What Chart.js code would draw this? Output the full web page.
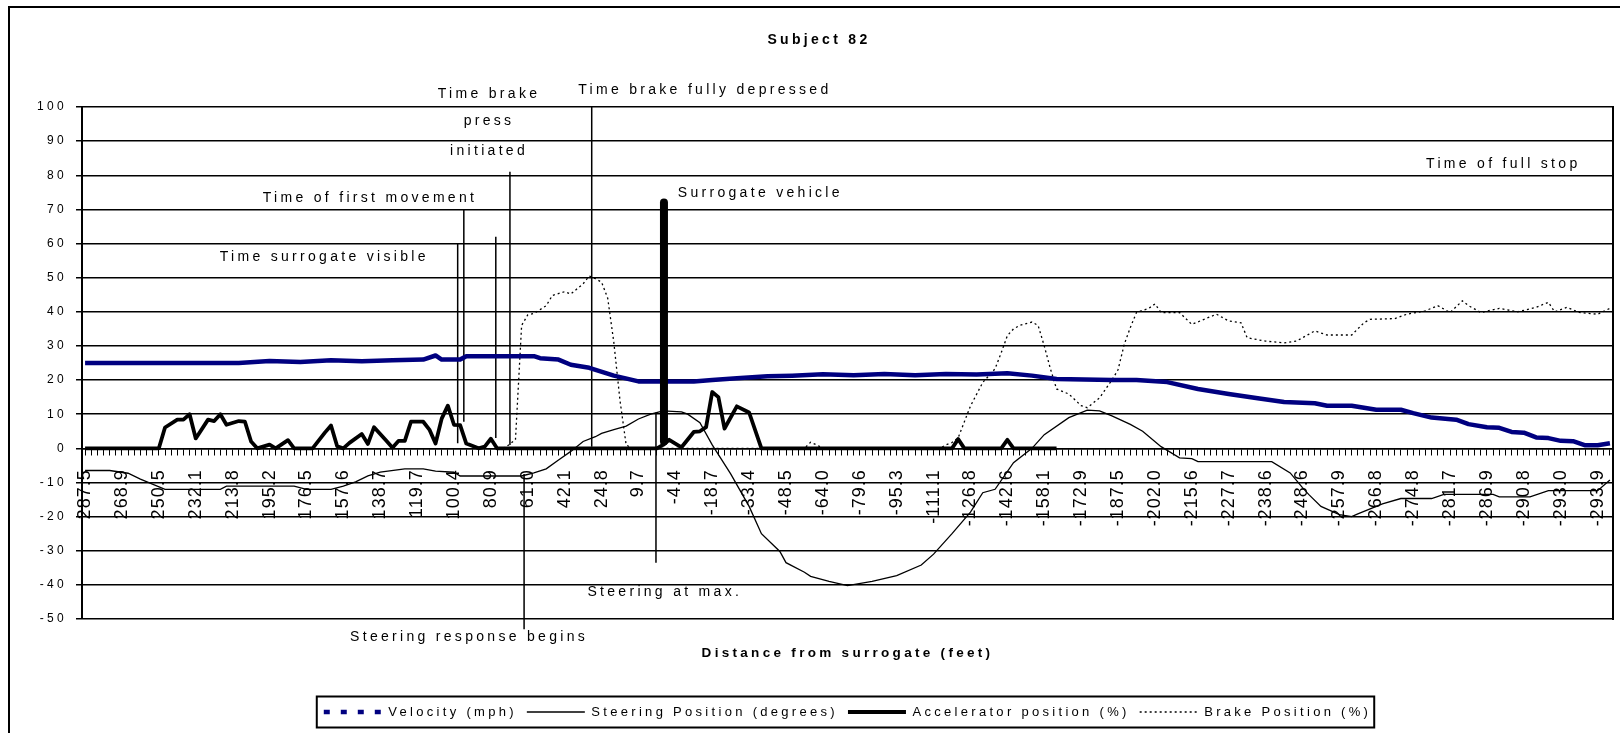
<!DOCTYPE html>
<html>
<head>
<meta charset="utf-8">
<title>Subject 82</title>
<script src="https://cdn.jsdelivr.net/npm/chart.js@4/dist/chart.umd.min.js"></script>
<style>
  html, body { margin: 0; padding: 0; background: #fff; }
  #wrap { position: relative; width: 1620px; height: 733px; overflow: hidden; }
  #frame { position: absolute; left: 8px; top: 6px; width: 1700px; height: 800px;
           border-left: 2px solid #000; border-top: 2px solid #000; pointer-events: none; }
</style>
</head>
<body>
<div id="wrap">
  <canvas id="myChart" width="1620" height="733"></canvas>
  <div id="frame"></div>
</div>
<script>
// distance from surrogate (feet), shown on every 6th sample
const distLabels = [
  '287.5', '268.9', '250.5', '232.1', '213.8', '195.2', '176.5', '157.6', '138.7', '119.7',
  '100.4', '80.9', '61.0', '42.1', '24.8', '9.7', '-4.4', '-18.7', '-33.4', '-48.5',
  '-64.0', '-79.6', '-95.3', '-111.1', '-126.8', '-142.6', '-158.1', '-172.9', '-187.5', '-202.0',
  '-215.6', '-227.7', '-238.6', '-248.6', '-257.9', '-266.8', '-274.8', '-281.7', '-286.9', '-290.8',
  '-293.0', '-293.9',
];
const sampleCount = 249;
const sampleIdx = Array.from({ length: sampleCount }, (_, k) => k);

// [sample index, value]
const velocity = [
  [0, 25], [25, 25], [30, 25.6], [35, 25.3], [40, 25.8], [45, 25.5], [50, 25.8], [55, 26], [57, 27.2], [58, 26],
  [61, 26], [62, 27], [73, 27], [74, 26.4], [77, 26], [79, 24.5], [82, 23.6], [86, 21.3], [90, 19.6], [99, 19.6],
  [102, 20], [106, 20.5], [111, 21.1], [115, 21.3], [120, 21.7], [125, 21.4], [130, 21.8], [135, 21.4], [140, 21.8], [145, 21.6],
  [150, 22], [154, 21.3], [158, 20.3], [167, 20], [171, 20], [176, 19.4], [181, 17.4], [186, 15.9], [191, 14.6], [195, 13.6],
  [200, 13.2], [202, 12.5], [206, 12.5], [210, 11.3], [214, 11.3], [216, 10.3], [219, 9], [223, 8.4], [225, 7.1], [228, 6.2],
  [230, 6], [232, 4.8], [234, 4.6], [236, 3.2], [238, 3], [240, 2.2], [242, 2.1], [244, 0.9], [246, 0.9], [248, 1.5],
];
const steering = [
  [0, -6.5], [4, -6.5], [7, -7.3], [9, -9], [13, -12], [22, -12], [23, -11.1], [34, -11.1], [36, -12], [40, -12],
  [42, -11.1], [44, -9.8], [46, -8.1], [48, -7], [52, -6], [55, -6], [57, -6.7], [60, -7], [61, -8.1], [71, -8.1],
  [73, -7.2], [75, -6], [77, -3.4], [79, -0.9], [81, 2], [83, 3.4], [84, 4.4], [86, 5.5], [88, 6.5], [90, 8.6],
  [92, 10], [94, 11], [97, 10.7], [98, 10], [100, 7.5], [102, 1], [105, -7.5], [108, -17], [110, -25], [113, -30.2],
  [114, -33.5], [117, -36.3], [118, -37.5], [121, -39], [124, -40.2], [128, -39], [132, -37.3], [136, -34.2], [138, -31], [141, -25],
  [144, -18.7], [146, -13], [148, -12], [151, -4.2], [154, 0], [156, 4], [160, 9], [163, 11.2], [165, 11], [167, 9.5],
  [170, 7], [172, 5], [175, 0.5], [178, -2.8], [180, -3], [181, -3.9], [193, -3.9], [196, -7.2], [198, -11.5], [199, -13.5],
  [201, -17], [204, -19.4], [206, -20], [207, -19.2], [211, -16.3], [214, -14.7], [219, -14.7], [221, -13.5], [229, -13.5], [230, -14.2],
  [235, -14.2], [238, -12.4], [246, -12.4], [248, -9.3],
];
const accelerator = [
  [0, 0], [12, 0], [13, 6.1], [15, 8.4], [16, 8.4], [17, 10], [18, 2.9], [20, 8.4], [21, 8], [22, 10],
  [23, 6.9], [25, 8], [26, 7.8], [27, 2], [28, 0], [30, 1.1], [31, 0], [33, 2.4], [34, 0], [37, 0],
  [39, 4.6], [40, 6.7], [41, 0.6], [42, 0], [43, 1.6], [45, 4.2], [46, 1.3], [47, 6.2], [49, 2.2], [50, 0.2],
  [51, 2.2], [52, 2.2], [53, 7.8], [55, 7.8], [56, 5.5], [57, 1.4], [58, 8.7], [59, 12.5], [60, 6.9], [61, 6.8],
  [62, 1.4], [64, 0], [65, 0.5], [66, 2.8], [67, 0], [93, 0], [94, 1], [95, 2.5], [97, 0.3], [99, 4.8],
  [100, 5], [101, 6.2], [102, 16.5], [103, 15], [104, 5.8], [106, 12.3], [108, 10.5], [110, 0], [141, 0], [142, 2.7],
  [143, 0], [149, 0], [150, 2.5], [151, 0], [158, 0],
];
const brake = [
  [68, 0], [69, 1.1], [70, 2.6], [71, 36], [72, 39.1], [73, 39.5], [75, 41.8], [76, 44.8], [78, 45.9], [79, 45.2],
  [81, 48.2], [82, 50.5], [83, 49.7], [84, 48.7], [85, 44], [86, 31], [87, 14], [88, 1], [89, 0], [117, 0],
  [118, 1.8], [119, 1], [120, 0], [139, 0], [140, 1], [141, 1.7], [142, 3.1], [144, 12.4], [146, 19.3], [148, 23.3],
  [149, 28], [150, 33], [151, 35], [152, 36], [154, 37], [155, 36], [156, 30], [157, 23.3], [158, 17.4], [160, 15.9],
  [162, 12.5], [163, 11.9], [165, 14.8], [167, 20], [168, 23], [169, 30.4], [170, 35.4], [171, 39.8], [173, 41], [174, 42.3],
  [175, 39.8], [178, 39.8], [180, 36.3], [182, 37.8], [184, 39.3], [186, 37.3], [188, 36.8], [189, 32.4], [192, 31.4], [195, 30.9],
  [197, 31.4], [199, 33.4], [200, 34.4], [202, 33.2], [206, 33.2], [208, 36.8], [209, 37.8], [213, 38], [215, 39.3], [218, 40.3],
  [220, 41.8], [222, 39.8], [224, 43.2], [225, 41.8], [227, 39.8], [230, 41], [233, 40], [236, 41.3], [238, 42.8], [239, 40],
  [241, 41.3], [243, 39.8], [246, 39.3], [248, 41],
];

// event markers: sample position, top value, bottom value
const markerAt = [60.6, 61.6, 66.8, 69.1, 82.4, 71.4, 92.85];
const markerTop = [60, 70, 62, 81, 100, -7.5, 10.5];
const markerBottom = [1.5, 7.8, 3, 1, 0.5, -53, -33.5];
const surrogateAt = 94.15;
const surrogateSpan = [2, 72];

const notes = [
  { text: 'Time surrogate visible', at: [21.9, 56], align: 'left' },
  { text: 'Time of first movement', at: [28.9, 73.3], align: 'left' },
  { text: 'Time brake', at: [65.7, 103.8], align: 'center' },
  { text: 'press', at: [65.7, 95.8], align: 'center' },
  { text: 'initiated', at: [65.7, 87], align: 'center' },
  { text: 'Time brake fully depressed', at: [80.2, 105], align: 'left' },
  { text: 'Surrogate vehicle', at: [96.4, 74.8], align: 'left' },
  { text: 'Time of full stop', at: [218.1, 83.4], align: 'left' },
  { text: 'Steering at max.', at: [81.7, -42.1], align: 'left' },
  { text: 'Steering response begins', at: [43.1, -55.4], align: 'left' },
];

const FONT = "'Liberation Sans', Arial, sans-serif";
Chart.defaults.font.family = FONT;
Chart.defaults.color = '#000';

const pts = (arr) => arr.map(([i, v]) => ({ x: i, y: v }));

// wide character spacing like the original, tighter for the distance labels
const spacing = {
  id: 'spacing',
  beforeLayout(chart) { chart.ctx.letterSpacing = '3.3px'; },
  afterLayout(chart) {
    const sx = chart.scales.x;
    if (!sx._tight) {
      const orig = sx.drawLabels;
      sx.drawLabels = function (area) {
        this.ctx.save();
        this.ctx.letterSpacing = '1px';
        orig.call(this, area);
        this.ctx.restore();
      };
      sx._tight = true;
    }
  },
  beforeDraw(chart) { chart.ctx.letterSpacing = '3.3px'; },
};

const notesPlugin = {
  id: 'notes',
  afterDraw(chart) {
    const { ctx, scales: { x, y }, legend } = chart;
    ctx.save();
    ctx.letterSpacing = '3.3px';
    ctx.fillStyle = '#000';
    ctx.font = '14px ' + FONT;
    ctx.textBaseline = 'middle';
    notes.forEach((n) => {
      ctx.textAlign = n.align;
      ctx.fillText(n.text, x.getPixelForValue(n.at[0]), y.getPixelForValue(n.at[1]));
    });
    // frame round the legend
    const boxes = legend.legendHitBoxes;
    const left = Math.min(...boxes.map((b) => b.left)) - 7;
    const right = Math.max(...boxes.map((b) => b.left + b.width)) + 3;
    const mid = boxes[0].top + boxes[0].height / 2;
    ctx.lineWidth = 2;
    ctx.strokeStyle = '#000';
    ctx.strokeRect(left, mid - 15.5, right - left, 31);
    ctx.restore();
  },
};

const markerSets = markerAt.map((m, k) => ({
  label: 'marker' + k,
  data: [{ x: m, y: markerTop[k] }, { x: m, y: markerBottom[k] }],
  borderColor: '#000',
  borderWidth: 1.5,
  pointRadius: 0,
  clip: false,
  order: 5,
}));

new Chart(document.getElementById('myChart'), {
  type: 'line',
  data: {
    datasets: [
      {
        label: 'Velocity (mph)',
        data: pts(velocity),
        borderColor: '#000080',
        backgroundColor: '#000080',
        borderWidth: 4.5,
        borderJoinStyle: 'round',
        pointRadius: 0,
      },
      {
        label: 'Steering Position (degrees)',
        data: pts(steering),
        borderColor: '#000',
        backgroundColor: '#000',
        borderWidth: 1.3,
        pointRadius: 0,
      },
      {
        label: 'Accelerator position (%)',
        data: pts(accelerator),
        borderColor: '#000',
        backgroundColor: '#000',
        borderWidth: 3.8,
        borderJoinStyle: 'round',
        pointRadius: 0,
      },
      {
        label: 'Brake Position (%)',
        data: pts(brake),
        borderColor: '#000',
        backgroundColor: '#000',
        borderWidth: 1.3,
        borderDash: [2, 3],
        pointRadius: 0,
      },
      ...markerSets,
      {
        label: 'surrogate',
        data: [{ x: surrogateAt, y: surrogateSpan[0] }, { x: surrogateAt, y: surrogateSpan[1] }],
        borderColor: '#000',
        borderWidth: 8,
        borderCapStyle: 'round',
        pointRadius: 0,
        order: -1,
      },
    ],
  },
  options: {
    responsive: false,
    animation: false,
    events: [],
    layout: { padding: { left: 25, right: 7, top: 0, bottom: 4.5 } },
    plugins: {
      tooltip: { enabled: false },
      title: {
        display: true,
        text: 'Subject 82',
        font: { size: 14, weight: 'bold' },
        padding: { top: 31.6, bottom: 58.6 },
      },
      subtitle: {
        display: true,
        text: 'Distance from surrogate (feet)',
        position: 'bottom',
        fullSize: false,
        weight: 500,
        font: { size: 13.5, weight: 'bold' },
        padding: { top: 25.9, bottom: 34.4 },
      },
      legend: {
        position: 'bottom',
        fullSize: false,
        labels: {
          usePointStyle: true,
          pointStyle: 'line',
          pointStyleWidth: 58,
          padding: 10,
          font: { size: 13 },
          filter: (item) => item.datasetIndex < 4,
          generateLabels(chart) {
            const items = Chart.defaults.plugins.legend.labels.generateLabels(chart);
            items.forEach((it) => {
              const ds = chart.data.datasets[it.datasetIndex];
              it.lineDash = it.datasetIndex === 0 ? [6, 11] : (ds.borderDash || []);
              it.lineWidth = ds.borderWidth;
            });
            return items;
          },
        },
      },
    },
    scales: {
      x: {
        type: 'linear',
        min: -0.5,
        max: 248.5,
        position: { y: 0 },
        afterBuildTicks: (s) => { s.ticks = sampleIdx.map((v) => ({ value: v })); },
        afterFit: (s) => { s.paddingLeft = 0; s.paddingRight = 0; },
        grid: { drawOnChartArea: false, drawTicks: true, tickLength: 6, color: '#000', lineWidth: 1 },
        border: { display: true, color: '#000', width: 1.5 },
        ticks: {
          autoSkip: false,
          minRotation: 90,
          maxRotation: 90,
          padding: 15,
          font: { size: 18 },
          callback: (v) => (v % 6 === 0 ? distLabels[v / 6] : ''),
        },
      },
      y: {
        min: -50,
        max: 100,
        afterFit: (s) => { s.width = 57; },
        grid: { color: '#000', lineWidth: 1.5, tickLength: 6 },
        border: { display: true, color: '#000', width: 2 },
        ticks: { stepSize: 10, padding: 9, font: { size: 12 } },
      },
      y2: {
        position: 'right',
        min: -50,
        max: 100,
        grid: { display: false, drawTicks: false },
        border: { display: true, color: '#000', width: 2 },
        ticks: { display: false },
      },
    },
  },
  plugins: [spacing, notesPlugin],
});
</script>
</body>
</html>
